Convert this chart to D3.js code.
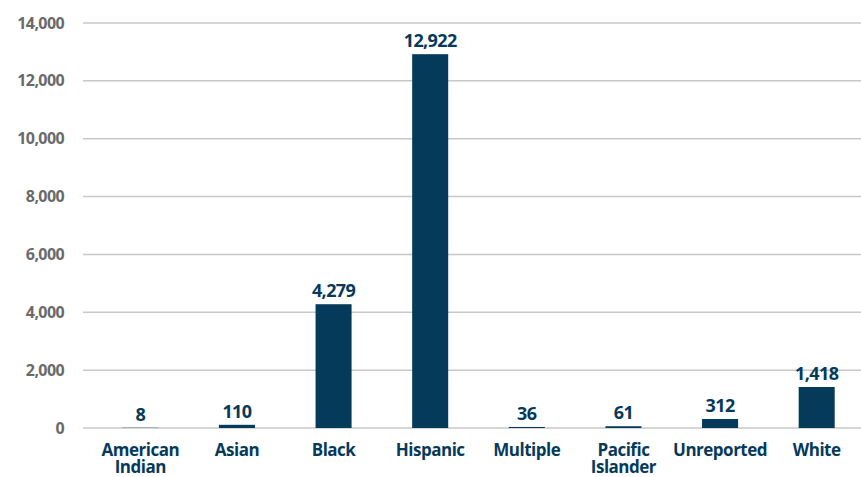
<!DOCTYPE html>
<html><head><meta charset="utf-8">
<script src="https://cdn.jsdelivr.net/npm/d3@7"></script>
<style>
body{margin:0;background:#fff;}
svg{display:block;}
</style></head>
<body>
<svg id="chart" width="861" height="477"></svg>
<script>
const categories = [["American","Indian"],["Asian"],["Black"],["Hispanic"],["Multiple"],["Pacific","Islander"],["Unreported"],["White"]];
const values = [8,110,4279,12922,36,61,312,1418];
const yTicks = [0,2000,4000,6000,8000,10000,12000,14000];

const svg = d3.select("#chart");
const fontFam = "'Open Sans', Roboto, sans-serif";
const navy = "#063a5b";
const keys = categories.map(c=>c.join(" "));
const x = d3.scaleBand().domain(keys).range([92,865]).paddingInner(0.627).paddingOuter(0.3135);
const y = d3.scaleLinear().domain([0,14000]).range([428,23]);

// gridlines
svg.append("g").selectAll("line").data(yTicks).join("line")
  .attr("x1",83).attr("x2",861)
  .attr("y1",d=>y(d)).attr("y2",d=>y(d))
  .attr("stroke","#c8c8c8").attr("stroke-width",1.5);

// y axis labels
const yAxis = d3.axisLeft(y).tickValues(yTicks).tickFormat(d3.format(",")).tickSize(0).tickPadding(0);
const ya = svg.append("g").attr("transform","translate(64,0)").call(yAxis);
ya.select(".domain").remove();
ya.selectAll("text").attr("font-family",fontFam).attr("font-weight","bold")
  .attr("font-size",16).attr("fill","#6a6a6a").attr("letter-spacing","-0.6");

// bars
svg.append("g").selectAll("rect").data(values).join("rect")
  .attr("x",(d,i)=>x(keys[i])).attr("width",x.bandwidth())
  .attr("y",d=>y(d)).attr("height",d=>y(0)-y(d)).attr("fill",navy);

// value labels
svg.append("g").selectAll("text").data(values).join("text")
  .attr("x",(d,i)=>x(keys[i])+x.bandwidth()/2).attr("y",d=>y(d)-7)
  .attr("text-anchor","middle").attr("font-family",fontFam).attr("font-weight","bold")
  .attr("font-size",18).attr("fill",navy).attr("letter-spacing","-0.6")
  .text(d=>d3.format(",")(d));

// x labels (one text per line)
const lines = [];
categories.forEach((c,i)=>c.forEach((t,j)=>lines.push({t, k:keys[i], j})));
svg.append("g").selectAll("text").data(lines).join("text")
  .attr("x",d=>x(d.k)+x.bandwidth()/2).attr("y",d=>456+d.j*17)
  .attr("text-anchor","middle").attr("font-family",fontFam).attr("font-weight","bold")
  .attr("font-size",17).attr("fill",navy).attr("letter-spacing","-0.5")
  .text(d=>d.t);
</script>
</body></html>
